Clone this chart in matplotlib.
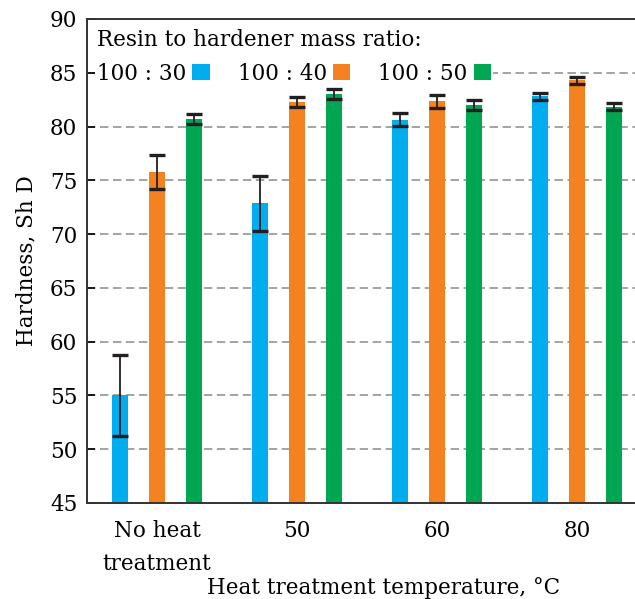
import numpy as np
import matplotlib
matplotlib.use("Agg")
import matplotlib.pyplot as plt
from matplotlib.patches import Patch

# ── data ─────────────────────────────────────────────
groups = ["No heat\ntreatment", "50", "60", "80"]
series = ["100 : 30", "100 : 40", "100 : 50"]
colors = ["#00AEEF", "#F58220", "#00A651"]

h_30 = [55.0, 72.85, 80.65, 82.8]
h_40 = [75.8, 82.3, 82.35, 84.3]
h_50 = [80.7, 83.05, 82.0, 81.85]
err_30 = [3.8, 2.55, 0.6, 0.3]
err_40 = [1.6, 0.45, 0.6, 0.3]
err_50 = [0.45, 0.45, 0.45, 0.3]

values = [h_30, h_40, h_50]
errors = [err_30, err_40, err_50]

plt.rcParams["font.family"] = ["DejaVu Serif"]
plt.rcParams["font.size"] = 15.5

fig = plt.figure(figsize=(6.35, 5.99), dpi=100)
ax = fig.add_axes([87 / 635, 96 / 599, 560 / 635, 484 / 599])

x = np.arange(len(groups))
offsets = [-0.264, 0.0, 0.264]
width = 0.114

for vals, errs, off, c in zip(values, errors, offsets, colors):
    ax.bar(x + off, [v - 45 for v in vals], width, bottom=45, color=c, zorder=2)
    ax.errorbar(x + off, vals, yerr=errs, fmt="none", ecolor="#231F20",
                elinewidth=1.3, capsize=5.6, capthick=2.4, zorder=3)

ax.set_xlim(-0.5, 3.5)
ax.set_ylim(45, 90)
ax.set_yticks(range(45, 91, 5))
ax.set_xticks(x)
ax.set_xticklabels(groups, linespacing=1.65)
ax.tick_params(axis="x", length=0, pad=12)
ax.tick_params(axis="y", direction="in", length=6, width=1.2, pad=7)

for y in range(50, 90, 5):
    ax.axhline(y, color="#8a8a8a", lw=1.1, ls=(0, (5.5, 3)), zorder=1)

for sp in ax.spines.values():
    sp.set_linewidth(1.4)
    sp.set_color("#333333")

ax.set_ylabel("Hardness, Sh D", labelpad=9)
ax.set_xlabel("Heat treatment temperature, °C")
ax.xaxis.set_label_coords(0.53, -0.153)

handles = [Patch(facecolor=c, edgecolor="none") for c in colors]
leg = ax.legend(handles, series, title="Resin to hardener mass ratio:",
                ncol=3, markerfirst=False, loc="upper left",
                bbox_to_anchor=(0.0, 1.0), borderaxespad=0.35,
                handlelength=0.8, handleheight=0.8, handletextpad=0.3,
                columnspacing=1.3, borderpad=0.1, alignment="left",
                frameon=True, fancybox=False, framealpha=1.0,
                title_fontsize=15.5, labelspacing=0.55)
leg.get_frame().set_edgecolor("none")
leg.get_frame().set_facecolor("white")
leg.set_zorder(5)

fig.savefig("out.png", dpi=100)
